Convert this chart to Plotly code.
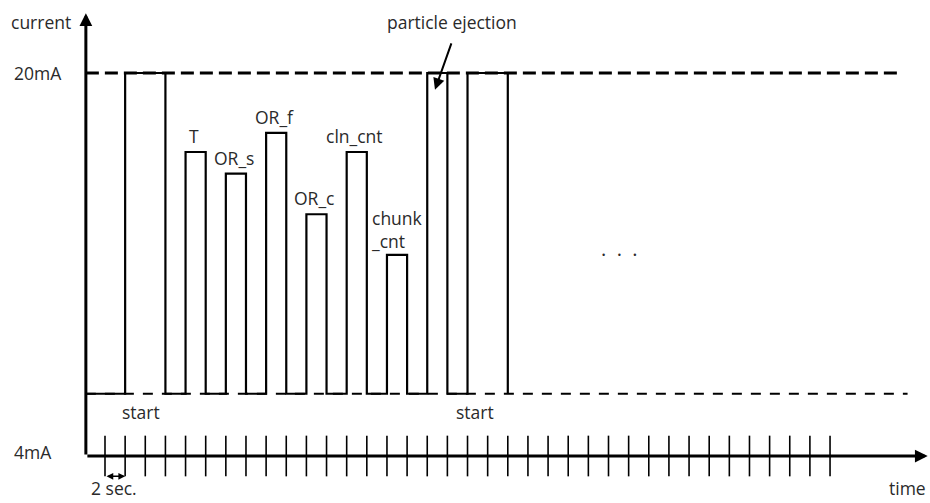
import plotly.graph_objects as go

# ---- data (time in seconds, current in mA) ----
pulse_labels = ["start", "T", "OR_s", "OR_f", "OR_c", "cln_cnt", "chunk<br>_cnt", "particle ejection", "start"]
pulse_start = [2, 8, 12, 16, 20, 24, 28, 32, 36]
pulse_end = [6, 10, 14, 18, 22, 26, 30, 34, 40]
pulse_level = [20, 16.7, 15.8, 17.5, 14.1, 16.7, 12.4, 20, 20]
low_level = 6.6
axis_level = 4
full_scale = 20
time_origin = -1.9
time_axis_end = 81.7
dashed_end_high = 79.1
dashed_end_low = 79.7
tick_times = list(range(0, 73, 2))
tick_half = 0.85
current_axis_top = 22.5

FONT = "Open Sans"
TXT = "#2a2a2a"

fig = go.Figure()

# dashed reference lines
fig.add_trace(go.Scatter(x=[time_origin, dashed_end_low], y=[low_level, low_level], mode="lines",
                         line=dict(color="black", width=1.8, dash="10px,9px"), hoverinfo="skip"))
fig.add_trace(go.Scatter(x=[time_origin, dashed_end_high], y=[full_scale, full_scale], mode="lines",
                         line=dict(color="black", width=3, dash="13px,6px"), hoverinfo="skip"))

# signal waveform
sx, sy = [time_origin], [low_level]
for s, e, lv in zip(pulse_start, pulse_end, pulse_level):
    sx += [s, s, e, e]
    sy += [low_level, lv, lv, low_level]
fig.add_trace(go.Scatter(x=sx, y=sy, mode="lines", line=dict(color="black", width=2.2),
                         hoverinfo="skip"))

# time ticks
tx, ty = [], []
for t in tick_times:
    tx += [t, t, None]
    ty += [axis_level - tick_half, axis_level + tick_half, None]
fig.add_trace(go.Scatter(x=tx, y=ty, mode="lines", line=dict(color="black", width=1.6),
                         hoverinfo="skip"))

annotations = []
# axes with arrows
annotations.append(dict(x=time_origin, y=current_axis_top, ax=time_origin, ay=axis_level,
                        xref="x", yref="y", axref="x", ayref="y", text="", showarrow=True,
                        arrowhead=2, arrowwidth=3, arrowsize=0.85, arrowcolor="black", standoff=0))
annotations.append(dict(x=time_axis_end, y=axis_level, ax=time_origin, ay=axis_level,
                        xref="x", yref="y", axref="x", ayref="y", text="", showarrow=True,
                        arrowhead=2, arrowwidth=3, arrowsize=0.85, arrowcolor="black", standoff=0))
# 2 sec double arrow
annotations.append(dict(x=tick_times[1], y=axis_level - tick_half, ax=tick_times[0], ay=axis_level - tick_half,
                        xref="x", yref="y", axref="x", ayref="y", text="", showarrow=True,
                        arrowhead=2, startarrowhead=2, arrowside="end+start", arrowwidth=1.5,
                        arrowsize=0.9, startarrowsize=0.9, arrowcolor="black", standoff=0, startstandoff=0))
# particle ejection arrow
annotations.append(dict(x=32.77, y=19.3, ax=34.45, ay=21.3, xref="x", yref="y", axref="x", ayref="y",
                        text="", showarrow=True, arrowhead=2, arrowwidth=2, arrowsize=1.15,
                        arrowcolor="black", standoff=0))

def txt(text, x, y, xref="x", yref="y", xanchor="center", yanchor="middle", **kw):
    d = dict(text=text, x=x, y=y, xref=xref, yref=yref, xanchor=xanchor, yanchor=yanchor,
             showarrow=False, font=dict(family=FONT, size=17.5, color=TXT))
    d.update(kw)
    annotations.append(d)

txt("current", time_origin, 22.13, xanchor="right", xshift=-13)
txt("20mA", 12 / 930, full_scale, xref="paper", xanchor="left")
txt("4mA", 12 / 930, axis_level, xref="paper", xanchor="left", yshift=4)
txt("2 sec.", 0.9, 0, yref="paper", yanchor="bottom", yshift=1)
txt("time", time_axis_end, 0, yref="paper", xanchor="right", yanchor="bottom", yshift=1)
txt("start", 3.6, 5.84)
txt("start", 36.7, 5.84)
txt("particle ejection", 34.46, 22.13)
txt(".  .  .", 51.1, 12.65, font=dict(family=FONT, size=20, color=TXT))

for lbl, s, e, lv in zip(pulse_labels[1:7], pulse_start[1:7], pulse_end[1:7], pulse_level[1:7]):
    if "<br>" in lbl:
        txt(lbl, (s + e) / 2, lv, yanchor="bottom", yshift=0, align="left")
    else:
        txt(lbl, (s + e) / 2 - 0.2, lv, yanchor="bottom", yshift=2)

fig.update_layout(
    width=930, height=503, margin=dict(l=0, r=0, t=0, b=0),
    paper_bgcolor="white", plot_bgcolor="white", showlegend=False,
    xaxis=dict(range=[-10.427, 81.927], visible=False, fixedrange=True),
    yaxis=dict(range=[2.0366, 23.0496], visible=False, fixedrange=True),
    annotations=annotations,
)

fig.write_html("out.html", config={"displayModeBar": False},
               post_script="document.body.style.margin='0px';document.body.style.overflow='hidden';")
